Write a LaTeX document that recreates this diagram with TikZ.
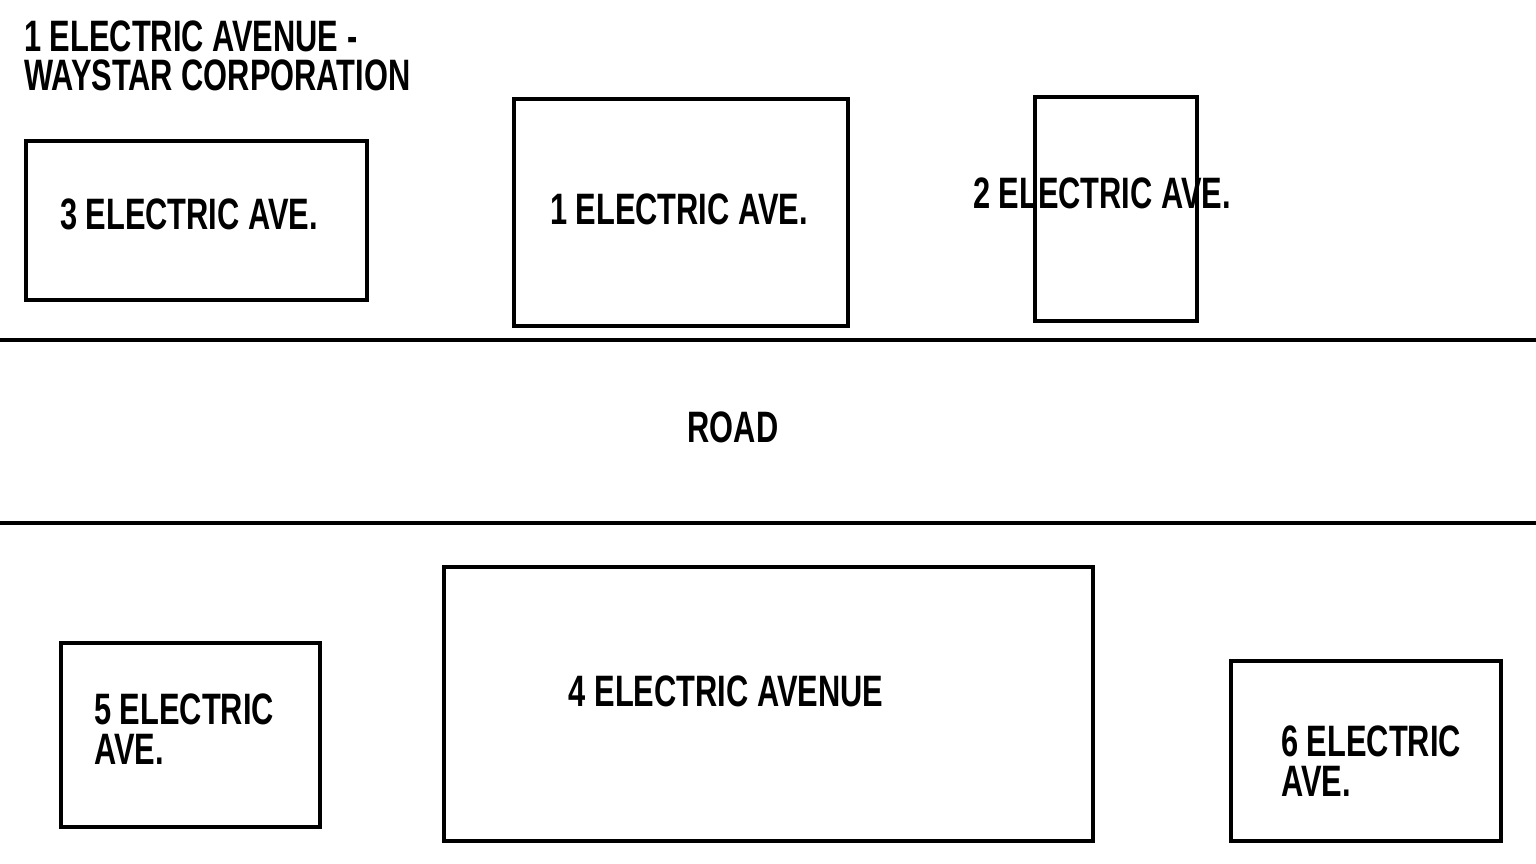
\documentclass[tikz,border=0pt]{standalone}
\usepackage{fontspec}
\newfontfamily\stencil{Liberation Sans}[FakeStretch=0.70]
\begin{document}
\begin{tikzpicture}[x=1pt,y=-1pt,
  lot/.style={draw=black,line width=4pt,rectangle,inner sep=0pt},
  lbl/.style={inner sep=0pt,anchor=base,font=\stencil\bfseries\fontsize{44}{40}\selectfont},
  lbll/.style={lbl,anchor=base west},
  road/.style={line width=4pt}]
\useasboundingbox[fill=white] (0,0) rectangle (1536,864);
% title
\node[lbll] (t1) at (24,52) {1 ELECTRIC AVENUE -};
\node[lbll] (t2) at (24,91) {WAYSTAR CORPORATION};
% road
\coordinate (r1a) at (0,340); \coordinate (r1b) at (1536,340);
\coordinate (r2a) at (0,523); \coordinate (r2b) at (1536,523);
\draw[road] (r1a) -- (r1b);
\draw[road] (r2a) -- (r2b);
\node[lbl] (road) at (733,442) {ROAD};
% lots
\node[lot,minimum width=341pt,minimum height=159pt] (b3) at (196.5,220.5) {};
\node[lbl] (l3) at (189,229) {3 ELECTRIC AVE.};
\node[lot,minimum width=334pt,minimum height=227pt] (b1) at (681,212.5) {};
\node[lbl] (l1) at (679,224) {1 ELECTRIC AVE.};
\node[lot,minimum width=162pt,minimum height=224pt] (b2) at (1116,209) {};
\node[lbl] (l2) at (1102,208) {2 ELECTRIC AVE.};
\node[lot,minimum width=649pt,minimum height=274pt] (b4) at (768.5,704) {};
\node[lbl] (l4) at (726,706) {4 ELECTRIC AVENUE};
\node[lot,minimum width=259pt,minimum height=184pt] (b5) at (190.5,735) {};
\node[lbll] (l5a) at (94,724) {5 ELECTRIC};
\node[lbll] (l5b) at (94,764) {AVE.};
\node[lot,minimum width=270pt,minimum height=180pt] (b6) at (1366,751) {};
\node[lbll] (l6a) at (1281,756) {6 ELECTRIC};
\node[lbll] (l6b) at (1281,796) {AVE.};
\end{tikzpicture}
\end{document}
